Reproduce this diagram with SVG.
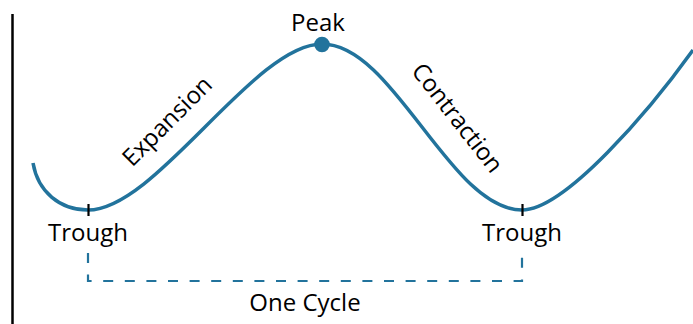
<svg xmlns="http://www.w3.org/2000/svg" width="693" height="324" viewBox="0 0 693 324">
<style>
.lbl{font-family:"Open Sans","Noto Sans","Liberation Sans",sans-serif;font-size:24px;fill:#000;text-anchor:middle}
.curve{fill:none;stroke:#22739c;stroke-width:3.5;stroke-linecap:butt}
.tick{stroke:#000;stroke-width:2.2}
.dash{fill:none;stroke:#22739c;stroke-width:2.2;stroke-dasharray:10 11.6}
</style>
<rect width="693" height="324" fill="#fff"/>
<line x1="12.5" y1="14" x2="12.5" y2="324" stroke="#000" stroke-width="2.5"/>
<g id="connectors">
<path id="cycle-curve" class="curve" d="M33,163 C38,192 60,210 88,210 C156,210 254,44 322,44 C394,44 450,210 522,210 C565,210 650,110 693,50"/>
<path id="one-cycle-bracket" class="dash" d="M88,253 V281 H522 V253"/>
</g>
<g id="trough-left">
<line class="tick" x1="88.5" y1="204" x2="88.5" y2="216"/>
<text class="lbl" x="88" y="241">Trough</text>
</g>
<g id="peak">
<circle cx="322" cy="44.5" r="7.8" fill="#22739c"/>
<text class="lbl" x="318" y="31">Peak</text>
</g>
<g id="trough-right">
<line class="tick" x1="522.5" y1="204" x2="522.5" y2="216"/>
<text class="lbl" x="522" y="241">Trough</text>
</g>
<g id="expansion">
<text class="lbl" transform="translate(173,127) rotate(-45)">Expansion</text>
</g>
<g id="contraction">
<text class="lbl" transform="translate(451,123) rotate(52)">Contraction</text>
</g>
<g id="one-cycle">
<text class="lbl" x="305" y="311">One Cycle</text>
</g>
</svg>
